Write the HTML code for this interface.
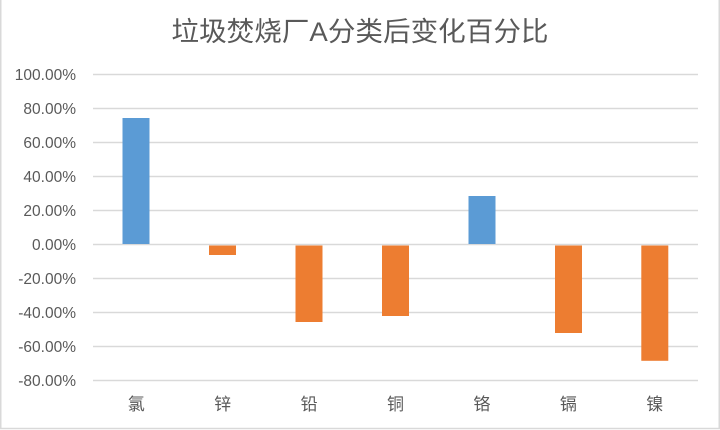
<!DOCTYPE html>
<html>
<head>
<meta charset="utf-8">
<style>
  html,body{margin:0;padding:0;background:#fff;}
  svg{display:block;}
  text{font-family:"Liberation Sans","Noto Sans CJK SC",sans-serif;fill:#595959;}
</style>
</head>
<body>
<svg width="720" height="430" viewBox="0 0 720 430" xmlns="http://www.w3.org/2000/svg">
  <rect x="0" y="0" width="720" height="430" fill="#fff"/>
  <!-- border -->
  <path d="M0.75 0 V428.5 H719.25 V0" fill="none" stroke="#d9d9d9" stroke-width="1.5"/>

  <!-- title -->
  <text x="171.5" y="32" font-size="27" dominant-baseline="central" textLength="377" lengthAdjust="spacingAndGlyphs">垃圾焚烧厂A分类后变化百分比</text>

  <!-- gridlines -->
  <g stroke="#d9d9d9" stroke-width="1.6">
    <line x1="93" x2="698" y1="74.5" y2="74.5"/>
    <line x1="93" x2="698" y1="108.5" y2="108.5"/>
    <line x1="93" x2="698" y1="142.5" y2="142.5"/>
    <line x1="93" x2="698" y1="176.5" y2="176.5"/>
    <line x1="93" x2="698" y1="210.5" y2="210.5"/>
    <line x1="93" x2="698" y1="244.5" y2="244.5"/>
    <line x1="93" x2="698" y1="278.5" y2="278.5"/>
    <line x1="93" x2="698" y1="312.5" y2="312.5"/>
    <line x1="93" x2="698" y1="346.5" y2="346.5"/>
    <line x1="93" x2="698" y1="380.5" y2="380.5"/>
  </g>

  <!-- y tick labels -->
  <g font-size="15.5" text-anchor="end" dominant-baseline="central">
    <text x="76" y="75.5">100.00%</text>
    <text x="76" y="109.5">80.00%</text>
    <text x="76" y="143.5">60.00%</text>
    <text x="76" y="177.5">40.00%</text>
    <text x="76" y="211.5">20.00%</text>
    <text x="76" y="245.5">0.00%</text>
    <text x="76" y="279.5">-20.00%</text>
    <text x="76" y="313.5">-40.00%</text>
    <text x="76" y="347.5">-60.00%</text>
    <text x="76" y="381.5">-80.00%</text>
  </g>

  <!-- bars -->
  <rect x="122.5" y="118" width="27" height="126" fill="#5B9BD5"/>
  <rect x="209" y="245.5" width="27" height="9.5" fill="#ED7D31"/>
  <rect x="295.5" y="245.5" width="27" height="76.5" fill="#ED7D31"/>
  <rect x="382" y="245.5" width="27" height="70.5" fill="#ED7D31"/>
  <rect x="468.5" y="196" width="27" height="48" fill="#5B9BD5"/>
  <rect x="555" y="245.5" width="27" height="87.5" fill="#ED7D31"/>
  <rect x="641.3" y="245.5" width="27" height="115.3" fill="#ED7D31"/>

  <!-- category labels -->
  <g font-size="17" text-anchor="middle" dominant-baseline="central">
    <text x="136.2" y="404.5">氯</text>
    <text x="222.6" y="404.5">锌</text>
    <text x="309.1" y="404.5">铅</text>
    <text x="395.5" y="404.5">铜</text>
    <text x="481.9" y="404.5">铬</text>
    <text x="568.4" y="404.5">镉</text>
    <text x="654.8" y="404.5">镍</text>
  </g>
</svg>
</body>
</html>
